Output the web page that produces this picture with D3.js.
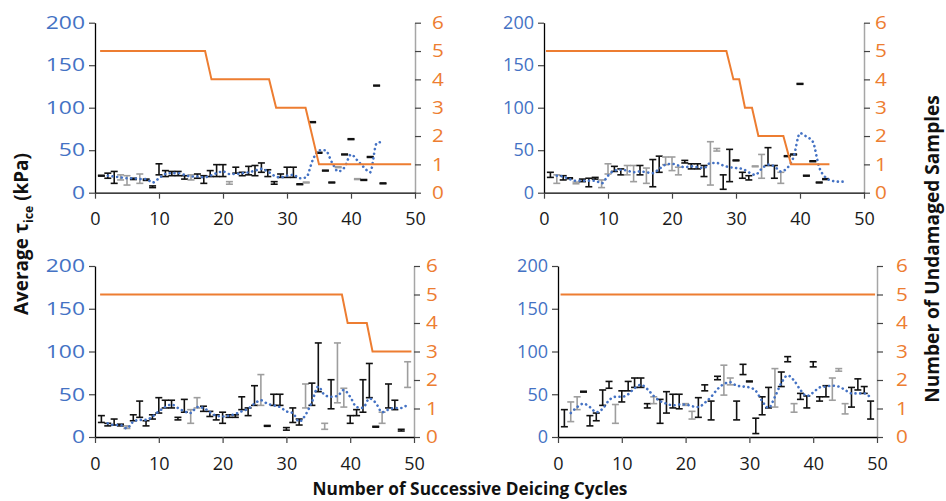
<!DOCTYPE html>
<html>
<head>
<meta charset="utf-8">
<script src="https://cdn.jsdelivr.net/npm/d3@7"></script>
<style>
  body { margin: 0; background: #fff; }
  text { font-family: "Open Sans", sans-serif; }
</style>
</head>
<body>
<div id="main"></div>
<script>
// ---- data ----
// error bars: low / high for cycles 1..n, grey = 1 for the lighter bars
const low1 = [19.5,17,11,15,9,15.5,11,14.5,6,21,19,20,20,16,15,17,11,19,19,19,10,23,20,21,20,24,19,10,18,18,18,9.5,11.5,82.5,46.5,25.5,11.5,29.5,44.5,62.5,15.5,14.5,41.5,125.5,10.5];
const high1 = [20.5,23,25,21,20,17,22,16,8,34,26,25,25,20,21,22,20,26,33,33,13,30,24,31,32,35,27,13,22,30,30,10.5,12.5,83.5,47.5,26.5,12.5,30.5,45.5,63.5,16.5,15.5,42.5,126.5,11.5];
const grey1 = [0,0,0,1,1,0,1,0,0,0,0,0,0,0,1,0,0,0,0,0,1,0,0,0,0,0,0,0,0,0,0,0,1,0,0,0,0,1,0,0,1,0,0,0,0];
const avg1 = [20,19,18,17,17,16,16,12,17,22,23,23,21,19,19,18,20,23,25,22,22,23,24,26,28,25,20,18,20,21,17,18,38,50,50,36,25,30,45,38,30,24,58,60];
const samples1 = [[0.8,5],[17.2,5],[18.2,4],[27.2,4],[28.3,3],[32.9,3],[35,1],[49.4,1]];

const low2 = [18,11,15,16.5,10.5,13,7,16,6,22,25,21,21,13,21,11,7,24,33,26,21,35,28,28,19,9,49,4,13,37.5,17,15,30.5,17,32,17,11,42.5,44.5,127.5,19.5,36.5,11.5,15.5];
const high2 = [24,21,20,17.5,12.5,16,17,18,15,34,31,28,32,32,32,29,39,43,42,42,30,38,34,34,32,60,52,21,51,38.5,24,20,31.5,45,53,32,24,43.5,45.5,128.5,20.5,37.5,12.5,16.5];
const grey2 = [0,1,0,0,1,0,0,0,1,1,0,0,1,1,0,1,0,0,1,1,1,0,0,0,0,1,1,0,0,0,0,0,1,1,0,0,1,0,0,0,0,0,0,0];
const avg2 = [20,19,16,14,14,14,14,11,20,26,27,26,24,25,24,23,28,33,34,32,30,31,30,29,35,35,32,30,29,28,24,21,28,33,31,25,29,42,70,66,60,30,18,14,13,13];
const samples2 = [[0.3,5],[28.5,5],[29.6,4],[30.5,4],[31.4,3],[32.5,3],[33.5,2],[37.4,2],[38.6,1],[44.6,1]];

const low3 = [17,13,14,13,10,19,23,13,21,28,34,34,20,29,16,34,30,24,20,16,23,23,32,25,37,37,12.5,37,37,8,17,14,34,37,53,9,33,40,35,16,25,29,46,11.5,16,34,32,7,58];
const high3 = [25,16,21,15,13,26,42,19,26,46,43,43,23,44,32,46,36,30,26,29,26,26,47,34,60,73,13.5,50,50,11,34,21,62,63,110,16,67,110,57,25,32,67,86,12.5,29,62,43,9,88];
const grey3 = [0,0,0,0,1,0,0,0,0,0,0,0,0,0,1,1,0,0,0,0,0,0,0,0,0,1,0,0,0,0,0,0,1,0,0,1,0,1,1,0,0,0,0,0,1,0,0,0,1];
const avg3 = [16,14,14,10,18,20,20,24,30,35,38,34,30,28,35,34,29,25,24,25,27,30,33,39,43,39,37,35,30,28,18,26,41,59,49,47,48,55,47,35,34,45,40,29,32,34,34,38];
const samples3 = [[0.8,5],[38.7,5],[39.6,4],[42.6,4],[43.5,3],[49.6,3]];

const low4 = [12,18,32,52.5,13,19,37,57,16,41,54,58,58,34,39,16,28,34,33,37,21,23,54,20,67,49,61,20,73,64.5,4,26,34,35,59,88,29,44,34,82,42,47,43,77,27,35,55,51,21];
const high4 = [32,41,47,53.5,25,28,55,65,38,54,65,69,69,39,47,44,53,50,50,39,30,46,61,42,71,84,69,42,85,65.5,22,47,58,80,76,94,39,51,48,88,47,60,69,80,39,58,68,59,42];
const grey4 = [0,1,1,0,0,0,0,0,1,0,0,0,0,0,1,0,0,0,0,1,1,0,0,0,0,1,1,0,0,0,0,0,0,1,0,0,1,0,0,0,0,0,1,1,1,0,0,0,0];
const avg4 = [28,35,39,35,29,33,43,47,47,50,57,61,56,48,42,39,37,38,38,36,35,40,47,56,62,64,60,59,58,54,42,34,47,63,72,66,55,48,52,58,59,60,59,55,51,51,51,46];
const samples4 = [[0.4,5],[49.7,5]];

const xTicks = [0, 10, 20, 30, 40, 50];
const yTicks = [0, 50, 100, 150, 200];
const nTicks = [0, 1, 2, 3, 4, 5, 6];
const avgStart = 2;

const panels = [
  { low: low1, high: high1, grey: grey1, avg: avg1, samples: samples1, x0: 95, x1: 415, y0: 192.7, y1: 22.7, blueScale: 1.27, nGap: 17 },
  { low: low2, high: high2, grey: grey2, avg: avg2, samples: samples2, x0: 544, x1: 864, y0: 192.7, y1: 22.7, blueScale: 1.0, nGap: 11 },
  { low: low3, high: high3, grey: grey3, avg: avg3, samples: samples3, x0: 95, x1: 414, y0: 437, y1: 266, blueScale: 1.27, nGap: 12 },
  { low: low4, high: high4, grey: grey4, avg: avg4, samples: samples4, x0: 558, x1: 877, y0: 437, y1: 266, blueScale: 1.0, nGap: 19 }
];

const BLUE = "#4472C4";
const ORANGE = "#ED7D31";

const svg = d3.select("#main").append("svg")
  .attr("width", 946)
  .attr("height", 501);

panels.forEach((p) => {
  const x = d3.scaleLinear().domain([0, 50]).range([p.x0, p.x1]);
  const y = d3.scaleLinear().domain([0, 200]).range([p.y0, p.y1]);
  const yn = d3.scaleLinear().domain([0, 6]).range([p.y0, p.y1]);
  const g = svg.append("g");

  // left axis
  const ga = g.append("g")
    .attr("transform", `translate(${p.x0},0)`)
    .call(d3.axisLeft(y).tickValues(yTicks).tickSize(6).tickSizeOuter(0));
  ga.select(".domain").attr("stroke", "#000").attr("stroke-width", 1.3);
  ga.selectAll(".tick line").attr("stroke", "#444").attr("stroke-width", 1.2);
  ga.selectAll(".tick text")
    .attr("x", -10 / p.blueScale)
    .attr("transform", `scale(${p.blueScale},1)`)
    .attr("fill", BLUE)
    .style("font-size", "18px");

  // right axis
  const gr = g.append("g")
    .attr("transform", `translate(${p.x1},0)`)
    .call(d3.axisRight(yn).tickValues(nTicks).tickFormat(d3.format("d")).tickSize(6).tickSizeOuter(0));
  gr.select(".domain").attr("stroke", "#a6a6a6").attr("stroke-width", 1.5);
  gr.selectAll(".tick line").attr("stroke", "#444").attr("stroke-width", 1.2);
  gr.selectAll(".tick text")
    .attr("x", p.nGap / 1.15)
    .attr("transform", "scale(1.15,1)")
    .attr("fill", ORANGE)
    .style("font-size", "18px");

  // bottom axis
  const gb = g.append("g")
    .attr("transform", `translate(0,${p.y0})`)
    .call(d3.axisBottom(x).tickValues(xTicks).tickSize(6).tickSizeOuter(0).tickPadding(14));
  gb.select(".domain").attr("stroke", "#000").attr("stroke-width", 1.3);
  gb.selectAll(".tick line").attr("stroke", "#444").attr("stroke-width", 1.2);
  gb.selectAll(".tick text").attr("fill", "#1a1a1a").style("font-size", "18px");

  // error bars
  const bars = g.append("g").selectAll("g")
    .data(p.low.map((lo, i) => ({ c: i + 1, lo: lo, hi: p.high[i], grey: p.grey[i] })))
    .join("g")
    .attr("stroke", (d) => (d.grey ? "#9e9e9e" : "#111"))
    .attr("stroke-width", 1.6);
  bars.append("line")
    .attr("x1", (d) => x(d.c)).attr("x2", (d) => x(d.c))
    .attr("y1", (d) => y(d.lo)).attr("y2", (d) => y(d.hi));
  bars.append("line")
    .attr("x1", (d) => x(d.c) - 3.5).attr("x2", (d) => x(d.c) + 3.5)
    .attr("y1", (d) => y(d.lo)).attr("y2", (d) => y(d.lo));
  bars.append("line")
    .attr("x1", (d) => x(d.c) - 3.5).attr("x2", (d) => x(d.c) + 3.5)
    .attr("y1", (d) => y(d.hi)).attr("y2", (d) => y(d.hi));

  // moving average (dotted)
  g.append("path")
    .datum(p.avg.map((v, i) => [i + avgStart, v]))
    .attr("fill", "none")
    .attr("stroke", BLUE)
    .attr("stroke-width", 2.6)
    .attr("stroke-linecap", "round")
    .attr("stroke-dasharray", "0.1 4.6")
    .attr("d", d3.line().x((d) => x(d[0])).y((d) => y(d[1])).curve(d3.curveMonotoneX));

  // number of undamaged samples
  g.append("path")
    .datum(p.samples)
    .attr("fill", "none")
    .attr("stroke", ORANGE)
    .attr("stroke-width", 2)
    .attr("d", d3.line().x((d) => x(d[0])).y((d) => yn(d[1])));
});

// titles, sized to the reference widths
function fitText(sel, target) {
  const w = sel.node().getComputedTextLength();
  const fs = parseFloat(sel.style("font-size"));
  sel.style("font-size", (fs * target / w) + "px");
}

const leftTitle = svg.append("text")
  .attr("transform", "translate(28,234) rotate(-90)")
  .attr("text-anchor", "middle")
  .style("font-weight", "bold")
  .style("font-size", "18px")
  .attr("fill", "#111");
leftTitle.append("tspan").text("Average τ");
leftTitle.append("tspan").text("ice").style("font-size", "0.65em").attr("dy", 5);
leftTitle.append("tspan").text(" (kPa)").attr("dy", -5);
fitText(leftTitle, 162);

const rightTitle = svg.append("text")
  .attr("transform", "translate(939,249) rotate(-90)")
  .attr("text-anchor", "middle")
  .style("font-weight", "bold")
  .style("font-size", "18px")
  .attr("fill", "#111")
  .text("Number of Undamaged Samples");
fitText(rightTitle, 308);

const bottomTitle = svg.append("text")
  .attr("x", 470)
  .attr("y", 495)
  .attr("text-anchor", "middle")
  .style("font-weight", "bold")
  .style("font-size", "18px")
  .attr("fill", "#111")
  .text("Number of Successive Deicing Cycles");
fitText(bottomTitle, 315);
</script>
</body>
</html>
